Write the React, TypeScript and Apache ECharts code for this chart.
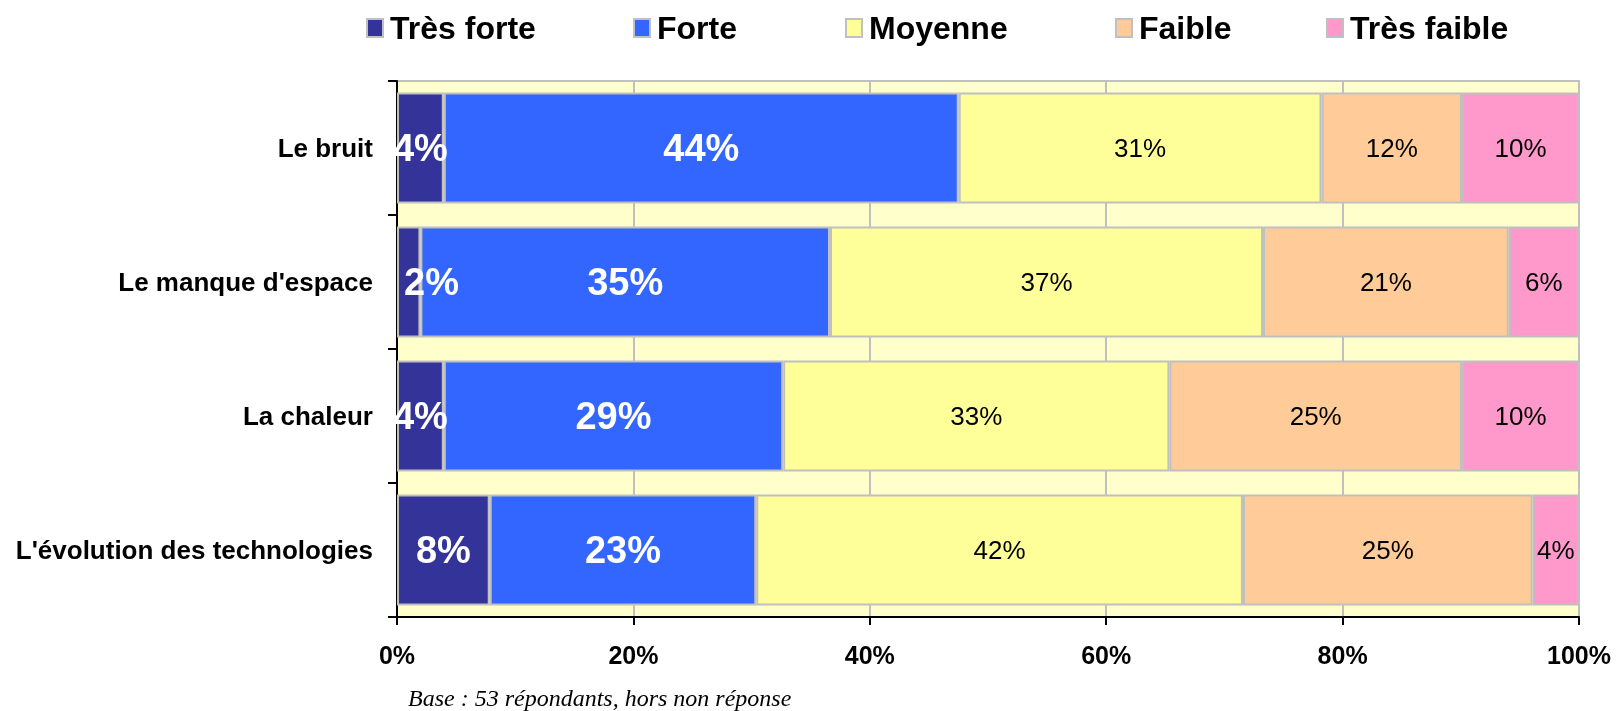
import React, { useEffect, useRef } from "react";
import * as echarts from "echarts";

const categories = ["Le bruit", "Le manque d'espace", "La chaleur", "L'évolution des technologies"];
const seriesNames = ["Très forte", "Forte", "Moyenne", "Faible", "Très faible"];
const tresForte = [4, 2, 4, 8];
const forte = [44, 35, 29, 23];
const moyenne = [31, 37, 33, 42];
const faible = [12, 21, 25, 25];
const tresFaible = [10, 6, 10, 4];
const xTicks = [0, 20, 40, 60, 80, 100];
const footnote = "Base : 53 répondants, hors non réponse";

const colors = ["#333399", "#3366ff", "#ffff99", "#ffcc99", "#ff99cc"];
const legendLefts = [366, 633, 845, 1115, 1326];

export default function App() {
  const ref = useRef<HTMLDivElement>(null);
  useEffect(() => {
    if (!ref.current) return;
    const chart = echarts.init(ref.current, null, { renderer: "svg" });
    const raw = [tresForte, forte, moyenne, faible, tresFaible];
    const sums = categories.map((_, i) => raw.reduce((s, arr) => s + arr[i], 0));
    const font = "Liberation Sans";
    const series = raw.map((arr, si) => ({
      name: seriesNames[si],
      type: "bar",
      stack: "total",
      barWidth: "83%",
      data: arr.map((v, i) => {
        const share = (v / sums[i]) * 100;
        if (si === 0 && share < 3) {
          return { value: share, label: { position: "insideLeft", distance: 7 } };
        }
        return share;
      }),
      itemStyle: { color: colors[si], borderColor: "#c0c0c0", borderWidth: 2 },
      label: {
        show: true,
        position: "inside",
        formatter: (p: any) => `${raw[p.seriesIndex][p.dataIndex]}%`,
        color: si < 2 ? "#ffffff" : "#000000",
        fontWeight: si < 2 ? "bold" : "normal",
        fontSize: si < 2 ? 38 : 26,
        fontFamily: font,
      },
    }));
    const legends = seriesNames.map((n, i) => ({
      data: [n],
      left: legendLefts[i],
      top: 12,
      padding: 0,
      itemWidth: 16,
      itemHeight: 18,
      itemGap: 10,
      icon: "rect",
      itemStyle: { borderColor: "#c0c0c0", borderWidth: 2 },
      textStyle: { fontFamily: font, fontWeight: "bold", fontSize: 32, color: "#000", padding: [0, 0, 0, 2] },
    }));
    chart.setOption({
      animation: false,
      legend: legends,
      grid: {
        left: 397,
        right: 37,
        top: 81,
        bottom: 94,
        show: true,
        backgroundColor: "#ffffcc",
        borderColor: "#c0c0c0",
        borderWidth: 2,
      },
      xAxis: {
        type: "value",
        min: xTicks[0],
        max: xTicks[xTicks.length - 1],
        interval: 20,
        axisLine: { show: true, lineStyle: { color: "#000", width: 2 } },
        axisTick: { show: true, length: 8, lineStyle: { color: "#000", width: 2 } },
        splitLine: { show: true, lineStyle: { color: "#c0c0c0", width: 2 } },
        axisLabel: {
          formatter: (v: number) => `${v}%`,
          fontFamily: font,
          fontWeight: "bold",
          fontSize: 25,
          color: "#000",
          margin: 25,
        },
      },
      yAxis: {
        type: "category",
        data: categories,
        inverse: true,
        axisLine: { show: true, lineStyle: { color: "#000", width: 2 } },
        axisTick: { show: true, length: 9, lineStyle: { color: "#000", width: 2 } },
        axisLabel: {
          fontFamily: font,
          fontWeight: "bold",
          fontSize: 26,
          color: "#000",
          margin: 24,
        },
      },
      graphic: [
        {
          type: "text",
          left: 408,
          top: 686,
          style: {
            text: footnote,
            fontFamily: "Liberation Serif",
            fontStyle: "italic",
            fontSize: 24,
            fill: "#000",
          },
        },
      ],
      series,
    });
    return () => chart.dispose();
  }, []);
  return <div ref={ref} style={{ position: "fixed", left: 0, top: 0, width: 1616, height: 711 }} />;
}
